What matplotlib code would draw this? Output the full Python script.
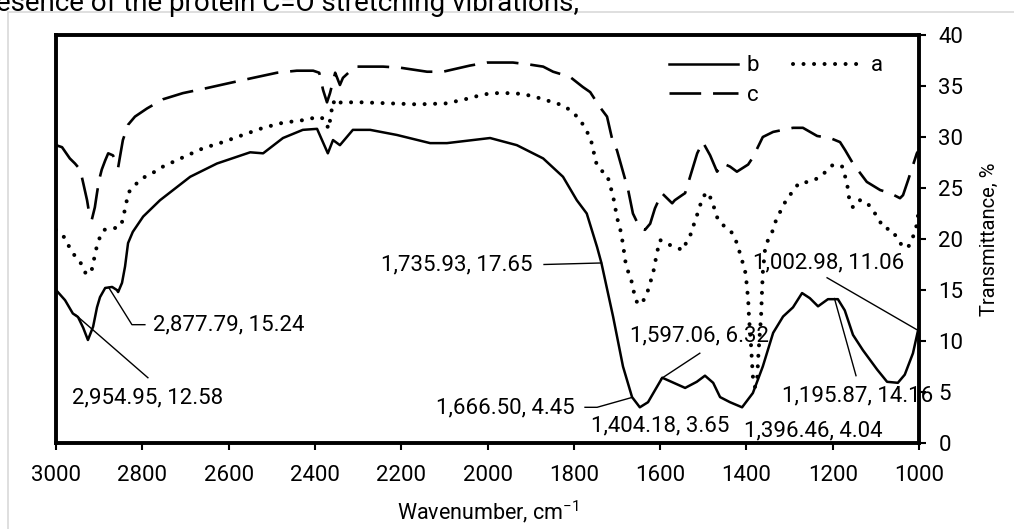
import matplotlib
matplotlib.use("Agg")
import matplotlib.pyplot as plt
from matplotlib.patches import Rectangle

plt.rcParams['font.family'] = ['Roboto', 'DejaVu Sans']
plt.rcParams['mathtext.fontset'] = 'custom'
plt.rcParams['mathtext.rm'] = 'Roboto'
plt.rcParams['mathtext.it'] = 'Roboto:italic'

# ---- spectrum b (solid)
b_w = [3000, 2979, 2961, 2949, 2937, 2926, 2914, 2905, 2898, 2886, 2870, 2859, 2856, 2847,
       2840, 2833, 2822, 2798, 2759, 2689, 2627, 2550, 2520, 2474, 2428, 2395, 2370, 2358,
       2342, 2312, 2272, 2210, 2133, 2094, 1994, 1932, 1871, 1825, 1793, 1770, 1746, 1736,
       1709, 1686, 1665, 1647, 1628, 1595, 1542, 1515, 1496, 1477, 1461, 1438, 1410, 1385,
       1362, 1338, 1315, 1292, 1271, 1253, 1234, 1211, 1188, 1172, 1153, 1130, 1097, 1074,
       1049, 1033, 1014, 1003]
b_t = [15.0, 14.0, 12.7, 12.35, 11.3, 10.1, 11.4, 13.3, 14.3, 15.2, 15.3, 15.0, 14.8, 15.7,
       17.3, 19.6, 20.7, 22.2, 23.8, 26.1, 27.4, 28.5, 28.4, 29.9, 30.7, 30.8, 28.4, 29.7,
       29.2, 30.7, 30.7, 30.2, 29.4, 29.4, 29.9, 29.2, 27.9, 26.1, 23.8, 22.5, 19.2, 17.65,
       12.4, 7.5, 4.5, 3.5, 4.0, 6.4, 5.4, 6.0, 6.6, 5.9, 4.5, 4.0, 3.5, 4.9,
       7.5, 10.8, 12.4, 13.3, 14.7, 14.2, 13.4, 14.1, 14.1, 13.0, 10.6, 9.1, 7.2, 6.0,
       5.9, 6.7, 8.8, 10.9]

# ---- spectrum a (dotted)
a_w = [3000, 2979, 2968, 2954, 2940, 2930, 2917, 2907, 2900, 2889, 2868, 2849, 2838, 2833,
       2817, 2798, 2775, 2752, 2706, 2659, 2613, 2567, 2520, 2474, 2418, 2393, 2380, 2368,
       2358, 2348, 2340, 2291, 2163, 2092, 2064, 2041, 2017, 1990, 1964, 1941, 1918, 1895,
       1871, 1848, 1825, 1804, 1786, 1774, 1762, 1755, 1751, 1739, 1723, 1716, 1709, 1704,
       1700, 1693, 1686, 1681, 1674, 1665, 1658, 1651, 1642, 1630, 1623, 1616, 1612, 1607,
       1600, 1589, 1570, 1547, 1538, 1526, 1519, 1510, 1503, 1491, 1480, 1473, 1466, 1450,
       1433, 1422, 1415, 1408, 1401, 1399, 1396, 1394, 1390, 1387, 1384, 1380, 1375, 1373,
       1370, 1366, 1364, 1362, 1357, 1350, 1338, 1331, 1320, 1308, 1294, 1278, 1255, 1232,
       1216, 1199, 1178, 1171, 1165, 1162, 1153, 1137, 1121, 1107, 1095, 1083, 1063, 1051,
       1037, 1025, 1014, 1005, 1002]
a_t = [20.9, 20.1, 19.1, 18.2, 17.5, 16.5, 17.0, 19.0, 20.0, 20.9, 21.0, 21.3, 23.3, 24.5,
       25.3, 26.0, 26.5, 27.1, 28.0, 28.9, 29.5, 30.2, 30.9, 31.4, 31.7, 32.0, 31.8, 30.8,
       33.5, 33.0, 33.4, 33.4, 33.2, 33.3, 33.6, 33.8, 34.1, 34.3, 34.3, 34.3, 34.2, 34.0,
       33.7, 33.4, 33.1, 32.5, 31.7, 30.9, 29.9, 28.9, 27.7, 26.8, 26.3, 25.3, 24.2, 23.1,
       22.1, 21.1, 19.5, 17.9, 16.8, 15.7, 14.2, 13.6, 13.7, 14.7, 15.7, 16.7, 17.6, 18.7,
       19.9, 19.6, 19.3, 18.9, 19.8, 20.7, 21.9, 22.8, 24.0, 24.6, 23.8, 22.8, 21.9, 21.2,
       20.6, 19.6, 18.6, 17.6, 16.5, 15.3, 14.2, 12.3, 10.1, 7.9, 5.9, 5.5, 6.2, 8.1,
       10.1, 12.4, 14.7, 16.7, 18.9, 19.9, 20.9, 21.9, 22.8, 23.8, 24.6, 25.5, 25.6, 26.0,
       26.6, 27.3, 27.1, 26.1, 25.0, 24.0, 23.1, 23.8, 23.6, 22.8, 22.1, 21.1, 20.9, 20.1,
       19.2, 19.2, 20.2, 21.4, 22.4]

# ---- spectrum c (dashed)
c_w = [3000, 2986, 2968, 2956, 2944, 2937, 2928, 2923, 2917, 2910, 2905, 2900, 2894, 2886,
       2879, 2868, 2859, 2856, 2852, 2845, 2833, 2817, 2789, 2752, 2706, 2650, 2597, 2543,
       2488, 2442, 2404, 2390, 2381, 2372, 2365, 2353, 2342, 2335, 2307, 2242, 2203, 2140,
       2103, 2041, 2001, 1941, 1902, 1871, 1848, 1809, 1779, 1762, 1739, 1723, 1709, 1700,
       1686, 1674, 1663, 1647, 1635, 1623, 1612, 1596, 1572, 1566, 1549, 1542, 1514, 1501,
       1484, 1468, 1454, 1438, 1422, 1396, 1385, 1362, 1338, 1315, 1292, 1269, 1236, 1206,
       1183, 1171, 1153, 1121, 1090, 1067, 1044, 1037, 1025, 1005, 1002]
c_t = [29.2, 29.0, 27.9, 27.4, 26.8, 25.5, 23.8, 22.5, 21.9, 23.1, 24.5, 25.8, 26.8, 27.7,
       28.4, 28.2, 27.4, 27.0, 28.0, 29.7, 31.2, 32.0, 32.8, 33.7, 34.3, 34.8, 35.3, 35.8,
       36.3, 36.5, 36.5, 36.3, 34.6, 33.4, 34.3, 36.3, 35.1, 35.8, 36.9, 36.9, 36.8, 36.4,
       36.4, 37.0, 37.3, 37.3, 37.1, 36.9, 36.4, 35.9, 34.9, 34.4, 32.9, 32.0, 29.4, 28.7,
       26.6, 24.8, 22.5, 21.1, 20.9, 21.5, 23.0, 24.5, 23.5, 23.8, 24.3, 24.5, 28.4, 29.5,
       28.2, 26.6, 27.4, 27.1, 26.6, 27.3, 28.0, 30.0, 30.5, 30.7, 30.9, 30.9, 30.1, 29.9,
       29.5, 28.7, 27.4, 25.6, 24.8, 24.5, 24.0, 24.3, 25.8, 28.4, 28.6]

# ---- labelled points
ann_w = [2954.95, 2877.79, 1735.93, 1666.50, 1597.06, 1404.18, 1396.46, 1195.87, 1002.98]
ann_t = [12.58, 15.24, 17.65, 4.45, 6.32, 3.65, 4.04, 14.16, 11.06]

# label placement: (x, y, ha) and leader-line bend points (before reaching the point)
lab_xy = [(2787, 4.4, 'center'), (2775, 11.6, 'left'), (1895, 17.45, 'right'),
          (1797, 3.4, 'right'), (1508, 10.5, 'center'), (1600, 1.67, 'center'),
          (1244, 1.2, 'center'), (1318, 4.6, 'left'), (1385, 17.7, 'left')]
leaders = [[(2787, 6.4)], [(2794, 11.6), (2824, 11.6)], [(1869, 17.5)],
           [(1774, 3.5), (1746, 3.5)], [(1508, 8.8)], [], [], [(1146, 6.6)], [(1213, 16.2)]]

FS = 16
W, H = 1014, 529
fig = plt.figure(figsize=(W / 100, H / 100), dpi=100)
ax = fig.add_axes([56 / W, 1 - 443 / H, 863 / W, 408 / H])

hb, = ax.plot(b_w, b_t, color='black', lw=1.8, solid_joinstyle='round')
ha_, = ax.plot(a_w, a_t, color='black', lw=2.9, linestyle=(0, (0.01, 2.6)),
               dash_capstyle='round')
hc, = ax.plot(c_w, c_t, color='black', lw=1.9, linestyle=(0, (12, 4.5)),
              dash_capstyle='butt')

for w, t, (lx, ly, hal), path in zip(ann_w, ann_t, lab_xy, leaders):
    if path:
        xs = [p[0] for p in path] + [w]
        ys = [p[1] for p in path] + [t]
        ax.plot(xs, ys, color='black', lw=1.0, zorder=2)
    ax.text(lx, ly, f"{w:,.2f}, {t:.2f}", ha=hal, va='center', fontsize=FS,
            zorder=2, clip_on=False)

ax.set_xlim(3000, 1000)
ax.set_ylim(0, 40)
ax.set_xticks(range(3000, 999, -200))
ax.set_yticks(range(0, 41, 5))
ax.yaxis.tick_right()
ax.yaxis.set_label_position('right')
ax.tick_params(axis='both', direction='out', length=5, width=1.5, labelsize=FS)
ax.tick_params(axis='x', pad=11)
ax.tick_params(axis='y', pad=9)
for s in ax.spines.values():
    s.set_linewidth(2.8)

ax.set_xlabel('Wavenumber, cm$^{-1}$', fontsize=15.5, labelpad=9)
ax.set_ylabel('Transmittance, %', fontsize=14.5, labelpad=12)

ax.legend([hb, hc, ha_], ['b', 'c', 'a'], ncol=2, frameon=False, fontsize=FS,
          loc='upper left', bbox_to_anchor=(0.70, 0.972), handlelength=3.1,
          handletextpad=0.4, columnspacing=1.5, labelspacing=0.4, borderaxespad=0)

fig.add_artist(Rectangle((8 / W, -0.1), 1.2, 1.1 - 12 / H, transform=fig.transFigure,
                         fill=False, edgecolor='#d9d9d9', lw=1.2))
# sentence from the surrounding page, cropped at the top edge as in the source
fig.text(-0.004, 1 - 11 / H, 'esence of the protein C=O stretching vibrations;',
         fontsize=20, va='baseline', ha='left')

fig.savefig('out.png', dpi=100)
